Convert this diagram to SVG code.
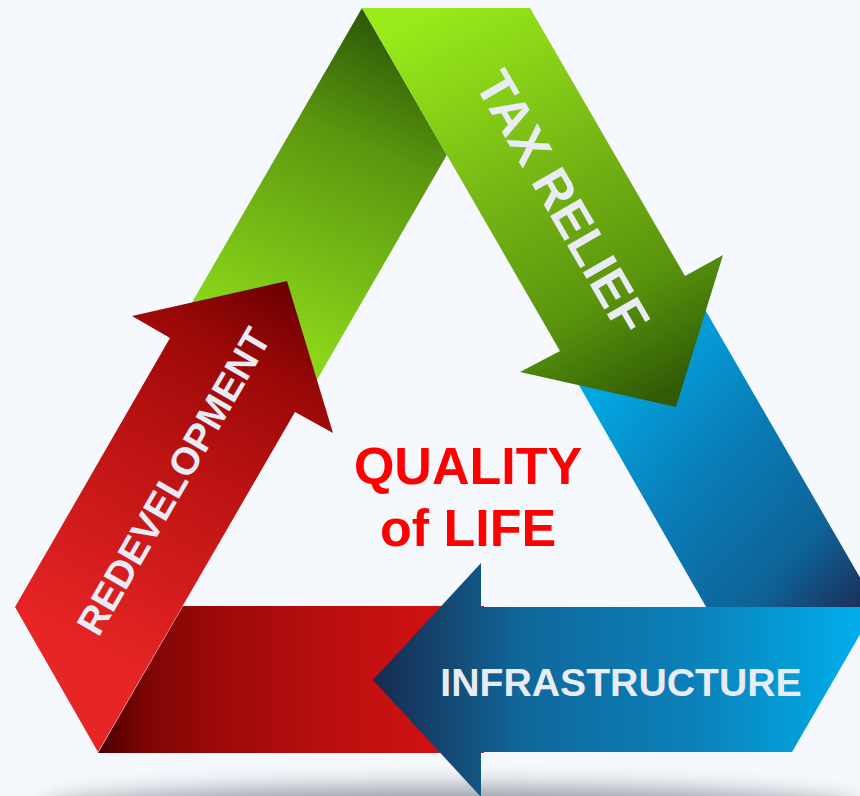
<svg xmlns="http://www.w3.org/2000/svg" width="860" height="796" viewBox="0 0 860 796">
  <defs>
    <linearGradient id="gDark" gradientUnits="userSpaceOnUse" x1="372" y1="20" x2="235" y2="320">
      <stop offset="0" stop-color="#2f5a07"/>
      <stop offset="0.35" stop-color="#5a960f"/>
      <stop offset="1" stop-color="#8ad61a"/>
    </linearGradient>
    <linearGradient id="gLight" gradientUnits="userSpaceOnUse" x1="440" y1="8" x2="650" y2="400">
      <stop offset="0" stop-color="#98ea1a"/>
      <stop offset="0.45" stop-color="#74b414"/>
      <stop offset="0.75" stop-color="#5a940d"/>
      <stop offset="1" stop-color="#315c06"/>
    </linearGradient>
    <linearGradient id="bSlant" gradientUnits="userSpaceOnUse" x1="610" y1="380" x2="860" y2="610">
      <stop offset="0" stop-color="#02a6e2"/>
      <stop offset="0.4" stop-color="#0a7cb6"/>
      <stop offset="0.75" stop-color="#0e6398"/>
      <stop offset="1" stop-color="#1c2f58"/>
    </linearGradient>
    <linearGradient id="bHoriz" gradientUnits="userSpaceOnUse" x1="373" y1="0" x2="860" y2="0">
      <stop offset="0" stop-color="#172a4f"/>
      <stop offset="0.2" stop-color="#13527f"/>
      <stop offset="0.3" stop-color="#10679a"/>
      <stop offset="0.65" stop-color="#0b80b8"/>
      <stop offset="1" stop-color="#00aeea"/>
    </linearGradient>
    <linearGradient id="rHoriz" gradientUnits="userSpaceOnUse" x1="98" y1="0" x2="490" y2="0">
      <stop offset="0" stop-color="#4a0000"/>
      <stop offset="0.12" stop-color="#7c0505"/>
      <stop offset="0.3" stop-color="#9c0909"/>
      <stop offset="0.6" stop-color="#bb0f0f"/>
      <stop offset="1" stop-color="#dc1212"/>
    </linearGradient>
    <linearGradient id="rSlant" gradientUnits="userSpaceOnUse" x1="90" y1="660" x2="300" y2="290">
      <stop offset="0" stop-color="#e82525"/>
      <stop offset="0.5" stop-color="#bd1313"/>
      <stop offset="0.8" stop-color="#9a0808"/>
      <stop offset="1" stop-color="#6a0000"/>
    </linearGradient>
    <filter id="blur" x="-20%" y="-200%" width="140%" height="500%">
      <feGaussianBlur stdDeviation="12"/>
    </filter>
    <style>
      .lbl { font-family: "Liberation Sans", Arial, sans-serif; font-weight: bold; fill: #e9ecf5; }
      .center { font-family: "Liberation Sans", Arial, sans-serif; font-weight: bold; fill: #ff0000; font-size: 52px; }
    </style>
  </defs>

  <rect width="860" height="796" fill="#f5f8fd"/>
  <ellipse cx="450" cy="812" rx="410" ry="24" fill="#8f949b" filter="url(#blur)"/>

  <g id="green-band">
    <polygon points="362,8 446.8,155 313.4,386 186.5,312" fill="url(#gDark)"/>
  </g>

  <g id="blue-band">
    <polygon points="576,380 699.5,300 880,612 709,612" fill="url(#bSlant)"/>
  </g>

  <g id="tax-relief">
    <polygon points="362,8 530,8 685,276 723,255 676,407 520,372 560,351" fill="url(#gLight)"/>
    <text class="lbl" font-size="51" text-anchor="middle" x="0" y="18" transform="translate(563,202) rotate(60)">TAX RELIEF</text>
  </g>

  <g id="red-band">
    <polygon points="183,606 484,606 484,753 98,753" fill="url(#rHoriz)"/>
  </g>

  <g id="infrastructure">
    <polygon points="373,680 481,563 481,607 876,607 792,752 481,752 481,797" fill="url(#bHoriz)"/>
    <text class="lbl" font-size="39.2" text-anchor="middle" x="621" y="696">INFRASTRUCTURE</text>
  </g>

  <g id="redevelopment">
    <polygon points="15,607 170,338 132,316 287,281 333,433 295,412 98,752" fill="url(#rSlant)"/>
    <text class="lbl" font-size="38.5" text-anchor="middle" x="0" y="14" transform="translate(173,481) rotate(-60)">REDEVELOPMENT</text>
  </g>

  <g id="quality-of-life">
    <text class="center" text-anchor="middle" x="468" y="484">QUALITY</text>
    <text class="center" text-anchor="middle" x="468" y="546">of LIFE</text>
  </g>

  <g id="connectors"/>
</svg>
